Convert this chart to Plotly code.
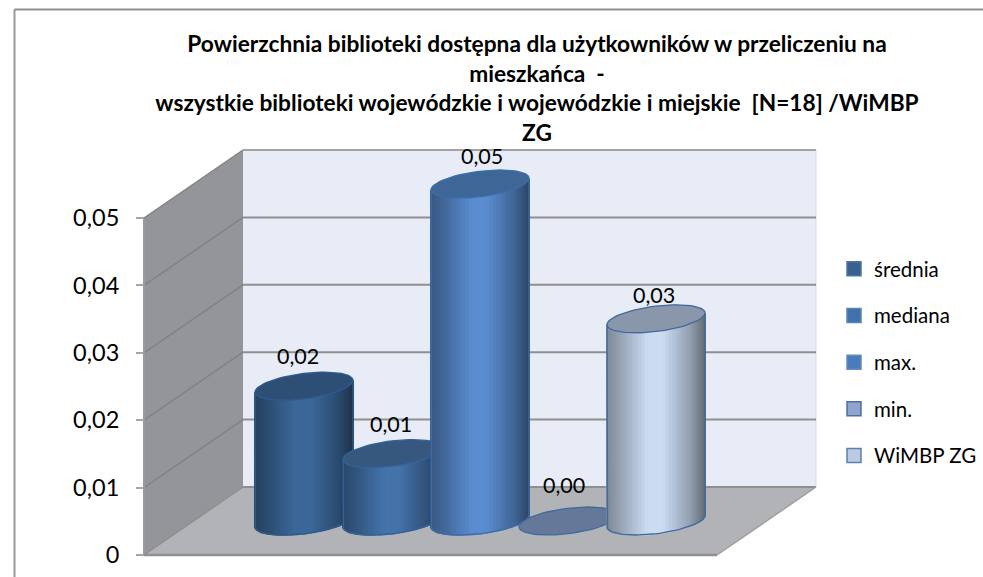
import math
import plotly.graph_objects as go

# ---- data ----
SERIES = ["średnia", "mediana", "max.", "min.", "WiMBP ZG"]
VALUES = [0.02, 0.01, 0.05, 0.0, 0.03]
VALUE_LABELS = ["0,02", "0,01", "0,05", "0,00", "0,03"]
TICK_VALUES = [0, 0.01, 0.02, 0.03, 0.04, 0.05]
TICK_LABELS = ["0", "0,01", "0,02", "0,03", "0,04", "0,05"]
TITLE_LINES = [
    "Powierzchnia biblioteki dostępna dla użytkowników w przeliczeniu na",
    "mieszkańca  -",
    "wszystkie biblioteki wojewódzkie i wojewódzkie i miejskie  [N=18] /WiMBP",
    "ZG",
]

# ---- style ----
W, H = 983, 577
FONT = "Lato"
BODY = ["#3c6899", "#4473aa", "#5a8ccf", "#8fa5cf", "#cbdbf2"]
CAP = ["#2d4e75", "#36587f", "#3e6696", "#66789a", "#8a97ab"]
EDGE = ["#2f5a8c", "#33639b", "#3a6ea8", "#3f6a9c", "#3f6a9c"]
LEGEND = ["#3a6090", "#4170aa", "#4a7cbb", "#8fa5cf", "#bccbe3"]
LEGEND_EDGE = ["#4d74a6", "#5a85b8", "#5f8cc2", "#4f6fa3", "#5b7fae"]
LABEL_DX = [-6, -1, 1.5, -4, -2]
LABEL_DY = [-30, -30, -28, -36, -24]
SHADE = [(0, .62), (.12, .72), (.42, 1.0), (.58, 1.0), (.86, .72), (1, .5)]

PX_X = 88.0          # pixels per series slot
PX_Y = 6740.0        # pixels per unit of value
X0_PX = 304.0        # pixel of first series centre
Y0_PX = 555.0        # pixel of value 0 at the front of the floor
DX = 99 / PX_X       # depth shift
DY = 68 / PX_Y
SIDE = 110.5 / PX_X  # floor margin from first/last series centre
A = 44.5 / PX_X
BX = 20.4 / PX_X
BY = 14 / PX_Y

n = len(SERIES)
front_l, front_r = -SIDE - DX / 2, n - 1 + SIDE - DX / 2
vmax = TICK_VALUES[-1]


def shade(hex_col, f):
    for (a, sa), (b, sb) in zip(SHADE, SHADE[1:]):
        if a <= f <= b:
            s = sa + (sb - sa) * (f - a) / (b - a)
            break
    r, g, bl = (int(hex_col[i:i + 2], 16) for i in (1, 3, 5))
    return f"rgb({r * s:.0f},{g * s:.0f},{bl * s:.0f})"


fig = go.Figure()


def poly(xs, ys, fill=None, line=None, width=0):
    fig.add_trace(go.Scatter(
        x=xs, y=ys, mode="lines", fill="toself" if fill else "none",
        fillcolor=fill, line=dict(color=line or "rgba(0,0,0,0)", width=width),
        hoverinfo="skip", showlegend=False))


# walls and floor
poly([front_l, front_l + DX, front_l + DX, front_l, front_l],
     [0, DY, vmax + DY, vmax, 0], fill="#939598")
poly([front_l + DX, front_r + DX, front_r + DX, front_l + DX, front_l + DX],
     [DY, DY, vmax + DY, vmax + DY, DY], fill="#e8ecf6")
poly([front_r + DX, front_r + DX], [DY, vmax + DY], line="#d5d9e4", width=1)
poly([front_l, front_r, front_r + DX, front_l + DX, front_l],
     [0, 0, DY, DY, 0], fill="#b1b3b7")
# gridlines
for v in TICK_VALUES[1:]:
    c = "#a3a3a3" if v == vmax else "#8f8f8f"
    poly([front_l + DX, front_r + DX], [v + DY, v + DY], line=c, width=2)
    poly([front_l, front_l + DX], [v, v + DY], line="#808285", width=1.5)
poly([front_l + DX, front_r + DX], [DY, DY], line="#8f8f8f", width=2)
poly([front_l, front_l], [0, vmax], line="#9a9a9a", width=2)
poly([front_l, front_l + DX], [0, DY], line="#8f8f8f", width=1.5)
poly([front_l, front_r], [0, 0], line="#8f8f8f", width=2.5)
poly([front_r, front_r + DX], [0, DY], line="#9f9f9f", width=1.5)


def ell(cx, cy, t):
    return cx + A * math.cos(t) + BX * math.sin(t), cy + BY * math.sin(t)


T0 = math.atan2(BX, A)
HALF = math.sqrt(A ** 2 + BX ** 2)
STRIPS = 44
for i, val in enumerate(VALUES):
    base = DY / 2
    ts = [T0 - math.pi + math.pi * k / STRIPS for k in range(STRIPS + 1)]
    if val > 0:
        for t1, t2 in zip(ts, ts[1:]):
            b1, b2 = ell(i, base, t1), ell(i, base, t2)
            u1, u2 = ell(i, base + val, t1), ell(i, base + val, t2)
            frac = ((b1[0] + b2[0]) / 2 - i + HALF) / (2 * HALF)
            col = shade(BODY[i], min(max(frac, 0), 1))
            poly([b1[0], b2[0], u2[0], u1[0], b1[0]],
                 [b1[1], b2[1], u2[1], u1[1], b1[1]], fill=col, line=col, width=1.6)
        bot = [ell(i, base, t) for t in ts]
        sx = [p[0] for p in bot]
        sy = [p[1] for p in bot]
        sx = [sx[0]] + sx + [sx[-1]]
        sy = [base + val + BY * math.sin(ts[0])] + sy + [base + val + BY * math.sin(ts[-1])]
        poly(sx, sy, line=EDGE[i], width=1.3)
    cap = [ell(i, base + val, 2 * math.pi * k / 72) for k in range(73)]
    poly([p[0] for p in cap], [p[1] for p in cap], fill=CAP[i], line=EDGE[i], width=1.3)

# legend entries
for name, c, e in zip(SERIES, LEGEND, LEGEND_EDGE):
    fig.add_trace(go.Scatter(
        x=[None], y=[None], mode="markers", name=name, legendgroup=name,
        marker=dict(symbol="square", size=14, color=c, line=dict(color=e, width=1.5))))

notes = [dict(x=i, y=DY / 2 + v, xref="x", yref="y", text=t, showarrow=False,
              xshift=dx, yshift=-dy, font=dict(family=FONT, size=21.5, color="#000"))
         for i, (v, t, dx, dy) in enumerate(zip(VALUES, VALUE_LABELS, LABEL_DX, LABEL_DY))]

fig.update_layout(
    width=W, height=H, margin=dict(l=0, r=0, t=0, b=0), autosize=False,
    paper_bgcolor="#fff", plot_bgcolor="#fff", separators=",.",
    font=dict(family=FONT, color="#000"),
    title=dict(text="<br>".join(f"<b>{t}</b>" for t in TITLE_LINES), x=537 / W, xanchor="center",
               y=1 - 52 / H, yanchor="middle", font=dict(family=FONT, size=22.7, color="#000")),
    xaxis=dict(domain=[0, 1], range=[-X0_PX / PX_X, (W - X0_PX) / PX_X], visible=False, fixedrange=True),
    yaxis=dict(anchor="free", position=(front_l * PX_X + X0_PX) / W,
               range=[(Y0_PX - H) / PX_Y, Y0_PX / PX_Y], tickmode="array",
               tickvals=TICK_VALUES, ticktext=TICK_LABELS, ticks="outside", ticklen=8,
               tickwidth=2, tickcolor="#a6a6a6", showgrid=False, zeroline=False,
               showline=False, ticklabelstandoff=12, fixedrange=True,
               tickfont=dict(family=FONT, size=23.5, color="#000")),
    legend=dict(x=841 / W, xanchor="left", y=1 - 249 / H, yanchor="top", tracegroupgap=17,
                indentation=-7, font=dict(family=FONT, size=20.5, color="#000"),
                bgcolor="rgba(0,0,0,0)", itemclick=False, itemdoubleclick=False),
    showlegend=True,
    annotations=notes,
    shapes=[dict(type="line", xref="paper", yref="paper", x0=14.5 / W, x1=14.5 / W,
                 y0=-0.02, y1=1 - 9.5 / H, line=dict(color="#9a9a9a", width=2), layer="below"),
            dict(type="line", xref="paper", yref="paper", x0=14.5 / W, x1=1.02,
                 y0=1 - 9.5 / H, y1=1 - 9.5 / H, line=dict(color="#8f8f8f", width=2), layer="below")],
)
fig.write_html("out.html", config=dict(displayModeBar=False),
               post_script="document.body.style.margin='0';")
